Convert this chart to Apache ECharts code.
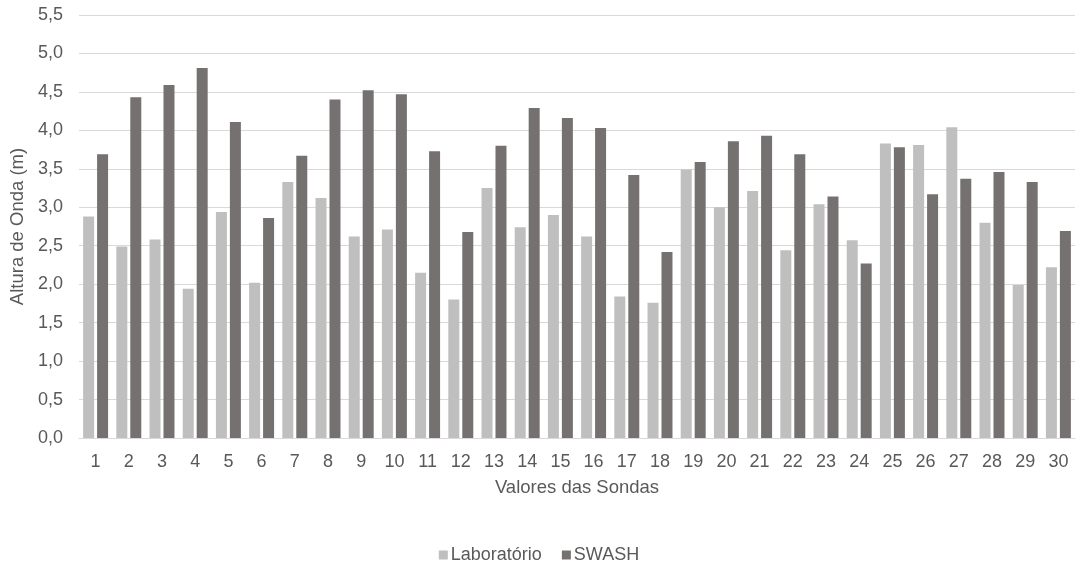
<!DOCTYPE html>
<html>
<head>
<meta charset="utf-8">
<script src="https://cdn.jsdelivr.net/npm/echarts@6/dist/echarts.min.js"></script>
<style>
  html, body { margin: 0; padding: 0; background: #ffffff; }
  #chart { width: 1078px; height: 566px; }
</style>
</head>
<body>
<div id="chart"></div>
<script>
// Probe numbers 1..30
const sondas = ['1','2','3','4','5','6','7','8','9','10','11','12','13','14','15',
                '16','17','18','19','20','21','22','23','24','25','26','27','28','29','30'];

// Wave height (m) measured in the laboratory
const laboratorio = [2.88, 2.49, 2.58, 1.94, 2.94, 2.02, 3.33, 3.12, 2.62, 2.71,
                     2.15, 1.80, 3.25, 2.74, 2.90, 2.62, 1.84, 1.76, 3.49, 3.00,
                     3.21, 2.44, 3.04, 2.57, 3.83, 3.81, 4.04, 2.80, 1.99, 2.22];

// Wave height (m) computed by SWASH
const swash = [3.69, 4.43, 4.59, 4.81, 4.11, 2.86, 3.67, 4.40, 4.52, 4.47,
               3.73, 2.68, 3.80, 4.29, 4.16, 4.03, 3.42, 2.42, 3.59, 3.86,
               3.93, 3.69, 3.14, 2.27, 3.78, 3.17, 3.37, 3.46, 3.33, 2.69];

const textColor = '#595959';
const fontFamily = '"Liberation Sans", Arial, sans-serif';

const chart = echarts.init(document.getElementById('chart'), null, { renderer: 'canvas' });

chart.setOption({
  backgroundColor: '#ffffff',
  animation: false,
  textStyle: { fontFamily: fontFamily, color: textColor },
  grid: { left: 79, right: 3, top: 15, bottom: 128, containLabel: false },
  legend: {
    data: ['Laboratório', 'SWASH'],
    left: 'center',
    top: 541,
    icon: 'rect',
    itemWidth: 9,
    itemHeight: 9,
    itemGap: 20,
    textStyle: { fontFamily: fontFamily, fontSize: 18, color: textColor, padding: [0, 0, 0, -2] }
  },
  xAxis: {
    type: 'category',
    data: sondas,
    name: 'Valores das Sondas',
    nameLocation: 'middle',
    nameGap: 40,
    nameTextStyle: { fontFamily: fontFamily, fontSize: 18.5, color: textColor },
    axisLine: { show: true, lineStyle: { color: '#D9D9D9', width: 1 } },
    axisTick: { show: false },
    axisLabel: { fontFamily: fontFamily, fontSize: 18, color: textColor, margin: 15, interval: 0 }
  },
  yAxis: {
    type: 'value',
    min: 0,
    max: 5.5,
    interval: 0.5,
    name: 'Altura de Onda (m)',
    nameLocation: 'middle',
    nameGap: 50,
    nameTextStyle: { fontFamily: fontFamily, fontSize: 18.5, color: textColor },
    axisLine: { show: false },
    axisTick: { show: false },
    splitLine: { show: true, lineStyle: { color: '#D9D9D9', width: 1 } },
    axisLabel: {
      fontFamily: fontFamily, fontSize: 18, color: textColor, margin: 16,
      formatter: function (v) { return v.toFixed(1).replace('.', ','); }
    }
  },
  series: [
    {
      name: 'Laboratório',
      type: 'bar',
      data: laboratorio,
      barWidth: 11,
      barGap: '27%',
      itemStyle: { color: '#BFBFBF' }
    },
    {
      name: 'SWASH',
      type: 'bar',
      data: swash,
      barWidth: 11,
      itemStyle: { color: '#767171' }
    }
  ]
});
</script>
</body>
</html>
